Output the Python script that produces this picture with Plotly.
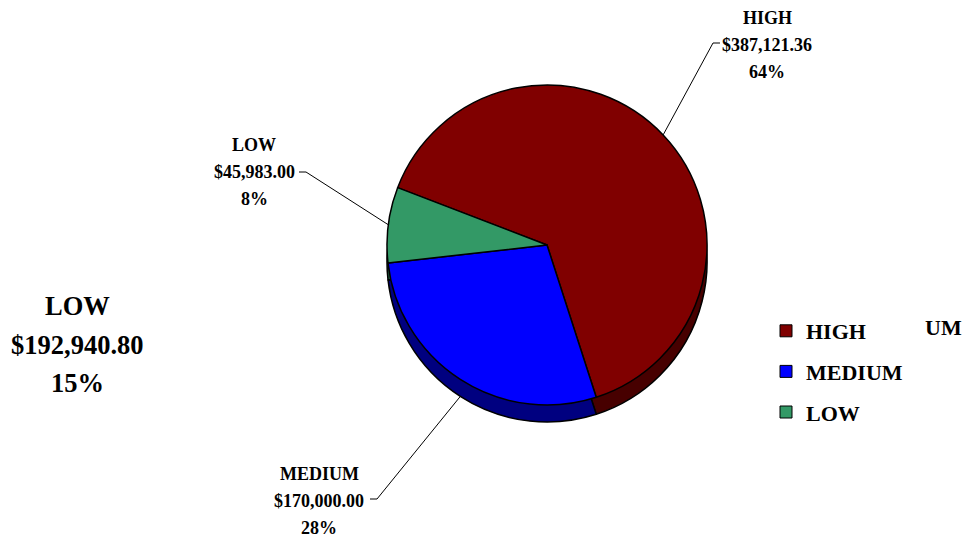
import math
import plotly.graph_objects as go

# ---------------- data ----------------
categories = ["HIGH", "MEDIUM", "LOW"]
amounts = [387121.36, 170000.00, 45983.00]
amount_labels = ["$387,121.36", "$170,000.00", "$45,983.00"]
percent_labels = ["64%", "28%", "8%"]
stray_label = ["LOW", "$192,940.80", "15%"]
stray_legend_text = "UM"

# ---------------- style / layout ----------------
colors = ["#800000", "#0000FF", "#339966"]
side_colors = ["#470000", "#000080", "#1E5C3D"]
FONT = "Liberation Serif"

W, H = 979, 537
CX, CY, R, DEPTH = 547, 245, 160, 17
ROT = 291

# label block centre (px), and leader elbow / end (px)
label_layout = {
    "HIGH":   dict(cx=767, top=18, elbow=(713, 43), end=(720, 43)),
    "MEDIUM": dict(cx=319, top=474, elbow=(377, 499), end=(370, 499)),
    "LOW":    dict(cx=254, top=145, elbow=(306, 172), end=(299, 172)),
}
LINE_GAP = 27


def px(x):
    return x / W


def py(y):
    return 1 - y / H


fig = go.Figure()

# side (depth) of the pie
fig.add_trace(go.Pie(
    values=amounts, labels=categories, sort=False, direction="clockwise",
    rotation=ROT, textinfo="none", hoverinfo="skip", showlegend=False,
    marker=dict(colors=side_colors, line=dict(color="black", width=1.5)),
    domain=dict(x=[px(CX - R), px(CX + R)],
                y=[py(CY + DEPTH + R), py(CY + DEPTH - R)]),
))
# top face
fig.add_trace(go.Pie(
    values=amounts, labels=categories, sort=False, direction="clockwise",
    rotation=ROT, textinfo="none", showlegend=False,
    marker=dict(colors=colors, line=dict(color="black", width=1.5)),
    domain=dict(x=[px(CX - R), px(CX + R)],
                y=[py(CY + R), py(CY - R)]),
))

# legend proxies
for cat, col in zip(categories, colors):
    fig.add_trace(go.Scatter(
        x=[None], y=[None], mode="markers", name=cat, legendgroup=cat,
        marker=dict(symbol="square", size=12, color=col,
                    line=dict(color="black", width=1)),
    ))

annotations = []
shapes = []
total = sum(amounts)
cum = 0.0
for cat, amt, amt_lbl, pct in zip(categories, amounts, amount_labels, percent_labels):
    lay = label_layout[cat]
    for k, txt in enumerate([cat, amt_lbl, pct]):
        annotations.append(dict(
            x=px(lay["cx"]), y=py(lay["top"] + k * LINE_GAP), xref="paper", yref="paper",
            text=txt, showarrow=False, xanchor="center", yanchor="middle",
            font=dict(family=FONT, size=18, color="black", weight="bold"),
        ))
    mid = math.radians(ROT + 360 * (cum + amt / 2) / total)
    cum += amt
    ex = CX + R * math.sin(mid)
    ey = CY - R * math.cos(mid)
    if math.cos(mid) < 0:
        ey += DEPTH
    (bx, by), (tx, ty) = lay["elbow"], lay["end"]
    shapes.append(dict(
        type="path", xref="paper", yref="paper",
        path=f"M {px(ex)},{py(ey)} L {px(bx)},{py(by)} L {px(tx)},{py(ty)}",
        line=dict(color="black", width=1),
    ))

for k, txt in enumerate(stray_label):
    annotations.append(dict(
        x=px(77), y=py(306 + k * 38.5), xref="paper", yref="paper",
        text=txt, showarrow=False, xanchor="center", yanchor="middle",
        font=dict(family=FONT, size=26.5, color="black", weight="bold"),
    ))
annotations.append(dict(
    x=px(943), y=py(327), xref="paper", yref="paper", text=stray_legend_text,
    showarrow=False, xanchor="center", yanchor="middle",
    font=dict(family=FONT, size=22, color="black", weight="bold"),
))

fig.update_layout(
    width=W, height=H,
    margin=dict(l=0, r=0, t=0, b=0),
    paper_bgcolor="white", plot_bgcolor="white",
    xaxis=dict(visible=False), yaxis=dict(visible=False),
    showlegend=True,
    legend=dict(x=px(766), y=py(310), xanchor="left", yanchor="top",
                font=dict(family=FONT, size=22, color="black", weight="bold"),
                tracegroupgap=9, bgcolor="rgba(0,0,0,0)"),
    annotations=annotations,
    shapes=shapes,
)

fig.write_html(
    "out.html",
    config={"displayModeBar": False},
    post_script="document.body.style.margin='0';document.body.style.overflow='hidden';",
)
